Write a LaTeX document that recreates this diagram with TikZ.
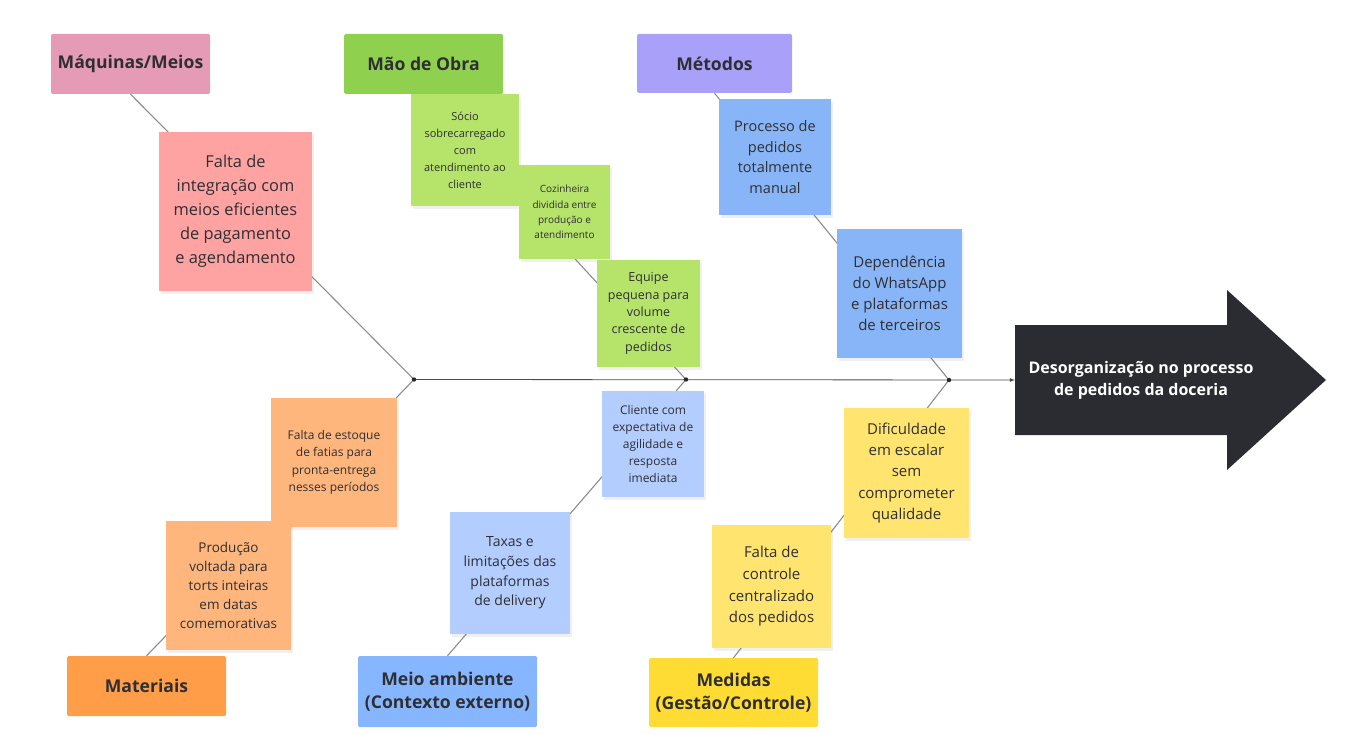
\documentclass[tikz,border=0pt]{standalone}
\usepackage{fontspec}
\setmainfont{Open Sans}
\usetikzlibrary{positioning,shadows,backgrounds}

\definecolor{ink}{HTML}{2F2F33}
\definecolor{cmaq}{HTML}{E59AB6}
\definecolor{nmaq}{HTML}{FFA2A2}
\definecolor{cmao}{HTML}{8FD14F}
\definecolor{nmao}{HTML}{B6E46B}
\definecolor{cmet}{HTML}{A9A0FA}
\definecolor{nmet}{HTML}{88B5F7}
\definecolor{cmat}{HTML}{FF9D48}
\definecolor{nmat}{HTML}{FFB67D}
\definecolor{camb}{HTML}{86B6FF}
\definecolor{namb}{HTML}{B3CDFF}
\definecolor{cmed}{HTML}{FFDC33}
\definecolor{nmed}{HTML}{FFE46F}
\definecolor{probc}{HTML}{2B2C31}
\definecolor{bonec}{HTML}{8C8C8C}

\newcommand\fsz[2]{\fontsize{#1}{#2}\selectfont}

\begin{document}
\begin{tikzpicture}[x=1pt,y=-1pt,
     % define styles
     cause/.style={
         rectangle,
         rounded corners=1.5pt,
         text=ink,
         align=center,
         inner sep=0pt,
         font=\fsz{17.6}{23}\bfseries
     },
     note/.style={
         rectangle,
         text=ink,
         align=center,
         inner sep=0pt,
         drop shadow={shadow xshift=2pt,shadow yshift=-3pt,opacity=0.12}
     },
     bone/.style={draw=bonec, line width=1.1pt},
     >=latex
]
\useasboundingbox (0,0) rectangle (1359,735);

% category headers
\node[cause, fill=cmaq, minimum width=159, minimum height=60] (maq) at (130.5,64) {Máquinas/Meios};
\node[cause, fill=cmao, minimum width=159, minimum height=60] (mao) at (423.5,64) {Mão de Obra};
\node[cause, fill=cmet, minimum width=155, minimum height=59] (met) at (714.5,63.5) {Métodos};
\node[cause, fill=cmat, minimum width=159, minimum height=60] (mat) at (146.5,686) {Materiais};
\node[cause, fill=camb, minimum width=179, minimum height=71] (amb) at (447.5,691.5) {Meio ambiente\\(Contexto externo)};
\node[cause, fill=cmed, minimum width=169, minimum height=69] (med) at (733.5,692.5) {Medidas\\(Gestão/Controle)};

% causes on the upper bones
\node[note, fill=nmaq, minimum width=153, minimum height=159, font=\fsz{16.4}{24}] (maq-1) at (235.5,211.5)
    {Falta de\\integração com\\meios eficientes\\de pagamento\\e agendamento};
\node[note, fill=nmao, minimum width=108, minimum height=112, font=\fsz{11}{17}] (mao-1) at (465,150)
    {Sócio\\sobrecarregado\\com\\atendimento ao\\cliente};
\node[note, fill=nmao, minimum width=91, minimum height=94, font=\fsz{10}{15.2}] (mao-2) at (564.5,212)
    {Cozinheira\\dividida entre\\produção e\\atendimento};
\node[note, fill=nmao, minimum width=103, minimum height=107, font=\fsz{12.5}{17.4}] (mao-3) at (648.5,313.5)
    {Equipe\\pequena para\\volume\\crescente de\\pedidos};
\node[note, fill=nmet, minimum width=112, minimum height=116, font=\fsz{14.5}{20.5}] (met-1) at (775,157)
    {Processo de\\pedidos\\totalmente\\manual};
\node[note, fill=nmet, minimum width=125, minimum height=129, font=\fsz{15}{21}] (met-2) at (899.5,293.5)
    {Dependência\\do WhatsApp\\e plataformas\\de terceiros};

% causes on the lower bones
\node[note, fill=nmat, minimum width=126, minimum height=129, font=\fsz{12}{17.5}] (mat-1) at (334,462.5)
    {Falta de estoque\\de fatias para\\pronta-entrega\\nesses períodos};
\node[note, fill=nmat, minimum width=125, minimum height=129, font=\fsz{13.5}{19.2}] (mat-2) at (228.5,585.5)
    {Produção\\voltada para\\torts inteiras\\em datas\\comemorativas};
\node[note, fill=namb, minimum width=102, minimum height=106, font=\fsz{12}{17.2}] (amb-1) at (653,444)
    {Cliente com\\expectativa de\\agilidade e\\resposta\\imediata};
\node[note, fill=namb, minimum width=120, minimum height=122, font=\fsz{14}{19.6}] (amb-2) at (510,573)
    {Taxas e\\limitações das\\plataformas\\de delivery};
\node[note, fill=nmed, minimum width=125, minimum height=130, font=\fsz{15}{21.2}] (med-1) at (906.5,473)
    {Dificuldade\\em escalar\\sem\\comprometer\\qualidade};
\node[note, fill=nmed, minimum width=119, minimum height=123, font=\fsz{15}{21.7}] (med-2) at (771.5,586.5)
    {Falta de\\controle\\centralizado\\dos pedidos};

% effect arrow
\fill[probc] (1015,325) -- (1227,325) -- (1227,290) -- (1326,380)
    -- (1227,470) -- (1227,435) -- (1015,435) -- cycle;
\node[text=white, align=center, font=\fsz{16}{22}\bfseries] (prob) at (1141,380)
    {Desorganização no processo\\de pedidos da doceria};
\coordinate (prob-in) at (1015,380);

% joints on the spine
\coordinate (j1) at (414,379.5);
\coordinate (j2) at (686,379.5);
\coordinate (j3) at (949,380);

\begin{scope}[on background layer]
\draw[bone] (maq.south) -- (j1);
\draw[bone] (mat.north) -- (j1);
\draw[bone] (mao.south) -- (j2);
\draw[bone] (amb.north) -- (j2);
\draw[bone] (met.south) -- (j3);
\draw[bone] (med.north) -- (j3);
\draw[->, draw=black!70, line width=0.8pt] (j1) -- (prob-in);
\end{scope}
\foreach \j in {j1,j2,j3}
    \fill[black!85] (\j) circle (2.2pt);
\end{tikzpicture}
\end{document}
